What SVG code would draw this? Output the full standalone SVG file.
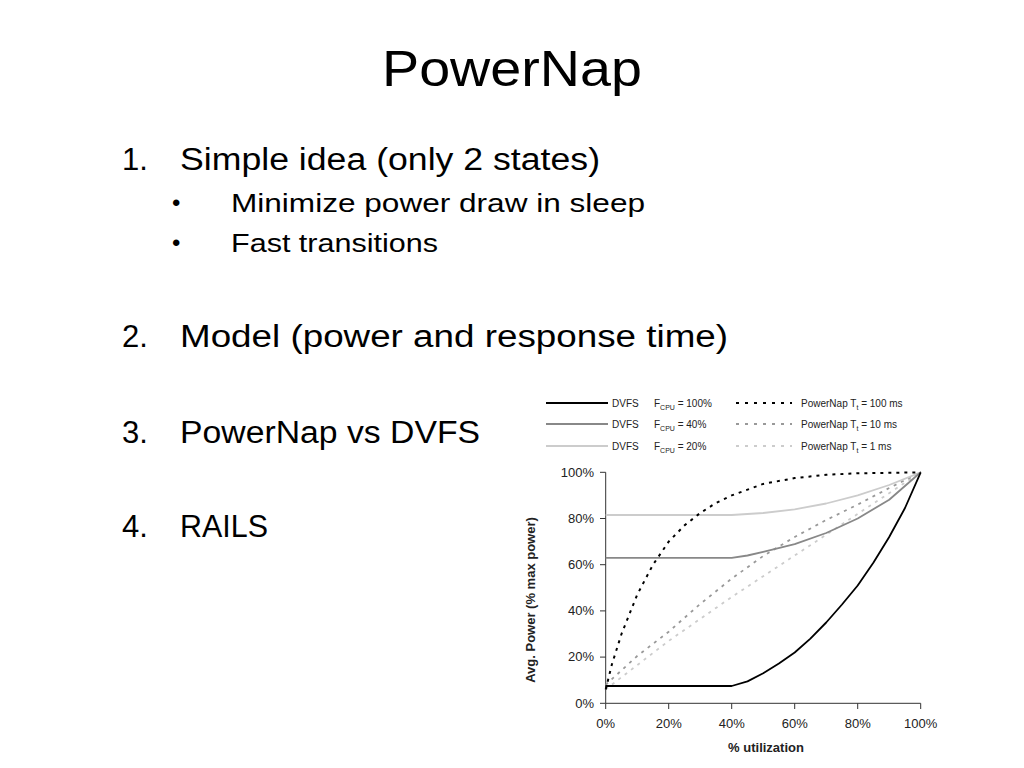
<svg xmlns="http://www.w3.org/2000/svg" width="1024" height="768" viewBox="0 0 1024 768">
<style>
.t{font-family:"Liberation Sans","Open Sans",sans-serif;fill:#000}
.c{font-family:"Liberation Sans",Arial,sans-serif;fill:#222;font-size:13px}
.l{font-family:"Liberation Sans",Arial,sans-serif;fill:#222;font-size:10px}
.s{font-size:7px}
path,polyline,line{fill:none}
</style>
<rect width="1024" height="768" fill="#fff"/>
<g id="slide-text">
<text class="t" x="512" y="86" font-size="50" text-anchor="middle" textLength="260" lengthAdjust="spacingAndGlyphs">PowerNap</text>
<text class="t" x="122" y="170" font-size="31">1.</text>
<text class="t" x="180" y="170" font-size="31" textLength="420" lengthAdjust="spacingAndGlyphs">Simple idea (only 2 states)</text>
<text class="t" x="172" y="211" font-size="24">•</text>
<text class="t" x="231" y="212" font-size="26" textLength="414" lengthAdjust="spacingAndGlyphs">Minimize power draw in sleep</text>
<text class="t" x="172" y="251" font-size="24">•</text>
<text class="t" x="231" y="252" font-size="26" textLength="207" lengthAdjust="spacingAndGlyphs">Fast transitions</text>
<text class="t" x="122" y="347" font-size="31">2.</text>
<text class="t" x="180" y="347" font-size="31" textLength="548" lengthAdjust="spacingAndGlyphs">Model (power and response time)</text>
<text class="t" x="122" y="443" font-size="31">3.</text>
<text class="t" x="180" y="443" font-size="31" textLength="300" lengthAdjust="spacingAndGlyphs">PowerNap vs DVFS</text>
<text class="t" x="122" y="537" font-size="31">4.</text>
<text class="t" x="180" y="537" font-size="31" textLength="88" lengthAdjust="spacingAndGlyphs">RAILS</text>
</g>
<g id="legend">
<line x1="546" y1="403" x2="608" y2="403" stroke="#000" stroke-width="2"/>
<line x1="546" y1="424" x2="608" y2="424" stroke="#888" stroke-width="2"/>
<line x1="546" y1="446" x2="608" y2="446" stroke="#ccc" stroke-width="2"/>
<line x1="736" y1="403" x2="792" y2="403" stroke="#000" stroke-width="2" stroke-dasharray="3,6"/>
<line x1="736" y1="424" x2="792" y2="424" stroke="#999" stroke-width="2" stroke-dasharray="3,6"/>
<line x1="736" y1="446" x2="792" y2="446" stroke="#ccc" stroke-width="2" stroke-dasharray="3,6"/>
<text class="l" x="612" y="407">DVFS</text>
<text class="l" x="612" y="428">DVFS</text>
<text class="l" x="612" y="450">DVFS</text>
<text class="l" x="654" y="407">F<tspan class="s" dy="3">CPU</tspan><tspan dy="-3"> = 100%</tspan></text>
<text class="l" x="654" y="428">F<tspan class="s" dy="3">CPU</tspan><tspan dy="-3"> = 40%</tspan></text>
<text class="l" x="654" y="450">F<tspan class="s" dy="3">CPU</tspan><tspan dy="-3"> = 20%</tspan></text>
<text class="l" x="801" y="407">PowerNap T<tspan class="s" dy="3">t</tspan><tspan dy="-3"> = 100 ms</tspan></text>
<text class="l" x="801" y="428">PowerNap T<tspan class="s" dy="3">t</tspan><tspan dy="-3"> = 10 ms</tspan></text>
<text class="l" x="801" y="450">PowerNap T<tspan class="s" dy="3">t</tspan><tspan dy="-3"> = 1 ms</tspan></text>
</g>
<g id="axes" stroke="#333" stroke-width="1">
<line x1="605.7" y1="472.3" x2="605.7" y2="703.3"/>
<line x1="605.7" y1="703.3" x2="920.7" y2="703.3"/>
<line x1="600" y1="472.3" x2="605.7" y2="472.3"/><line x1="600" y1="518.5" x2="605.7" y2="518.5"/><line x1="600" y1="564.7" x2="605.7" y2="564.7"/><line x1="600" y1="610.9" x2="605.7" y2="610.9"/><line x1="600" y1="657.1" x2="605.7" y2="657.1"/><line x1="600" y1="703.3" x2="605.7" y2="703.3"/>
<line x1="605.7" y1="703.3" x2="605.7" y2="709"/><line x1="668.7" y1="703.3" x2="668.7" y2="709"/><line x1="731.7" y1="703.3" x2="731.7" y2="709"/><line x1="794.7" y1="703.3" x2="794.7" y2="709"/><line x1="857.7" y1="703.3" x2="857.7" y2="709"/><line x1="920.7" y1="703.3" x2="920.7" y2="709"/>
</g>
<g id="axis-labels">
<text class="c" x="594" y="477" text-anchor="end">100%</text>
<text class="c" x="594" y="523" text-anchor="end">80%</text>
<text class="c" x="594" y="569" text-anchor="end">60%</text>
<text class="c" x="594" y="615" text-anchor="end">40%</text>
<text class="c" x="594" y="661" text-anchor="end">20%</text>
<text class="c" x="594" y="708" text-anchor="end">0%</text>
<text class="c" x="605.7" y="728" text-anchor="middle">0%</text>
<text class="c" x="668.7" y="728" text-anchor="middle">20%</text>
<text class="c" x="731.7" y="728" text-anchor="middle">40%</text>
<text class="c" x="794.7" y="728" text-anchor="middle">60%</text>
<text class="c" x="857.7" y="728" text-anchor="middle">80%</text>
<text class="c" x="920.7" y="728" text-anchor="middle">100%</text>
<text class="c" x="766" y="752" text-anchor="middle" font-weight="bold">% utilization</text>
<text class="c" x="0" y="0" text-anchor="middle" font-weight="bold" transform="translate(535,600) rotate(-90)">Avg. Power (% max power)</text>
</g>
<g id="curves" stroke-width="1.8" stroke-linejoin="round">
<polyline stroke="#ccc" stroke-dasharray="3,5" points="605.7,689.4 668.7,640.9 731.7,597 794.7,555.5 857.7,513.9 920.7,472.3"/>
<polyline stroke="#999" stroke-dasharray="3,5" points="605.7,684.8 637.2,656 668.7,631.7 700.2,604 731.7,578.6 763.2,556 794.7,537 826.2,520 857.7,504.6 889.2,488 920.7,472.3"/>
<polyline stroke="#ccc" points="605.7,515 731.7,515 763.2,513 794.7,509.3 826.2,503.5 857.7,495.4 889.2,485 920.7,472.3"/>
<polyline stroke="#888" points="605.7,557.8 731.7,557.8 747.5,555.5 763.2,551.8 794.7,544.2 826.2,533 857.7,518.5 889.2,499.7 920.7,472.3"/>
<polyline stroke="#000" points="605.7,686 731.7,686 747.5,681.4 763.2,673.3 778.9,663.5 794.7,652.5 810.4,638.6 826.2,622.5 842,604.5 857.7,585.5 873.5,562.5 889.2,537 905,508 920.7,472.3"/>
<polyline stroke="#000" stroke-width="2" stroke-dasharray="3,5" points="605.7,689.4 612,664 621.5,634 637.2,594.7 653,564.7 668.7,541.6 684.5,525.4 700.2,513 715.9,503 731.7,495.4 763.2,483.9 794.7,478.1 826.2,474.8 857.7,473.3 920.7,472.3"/>
</g>
</svg>
